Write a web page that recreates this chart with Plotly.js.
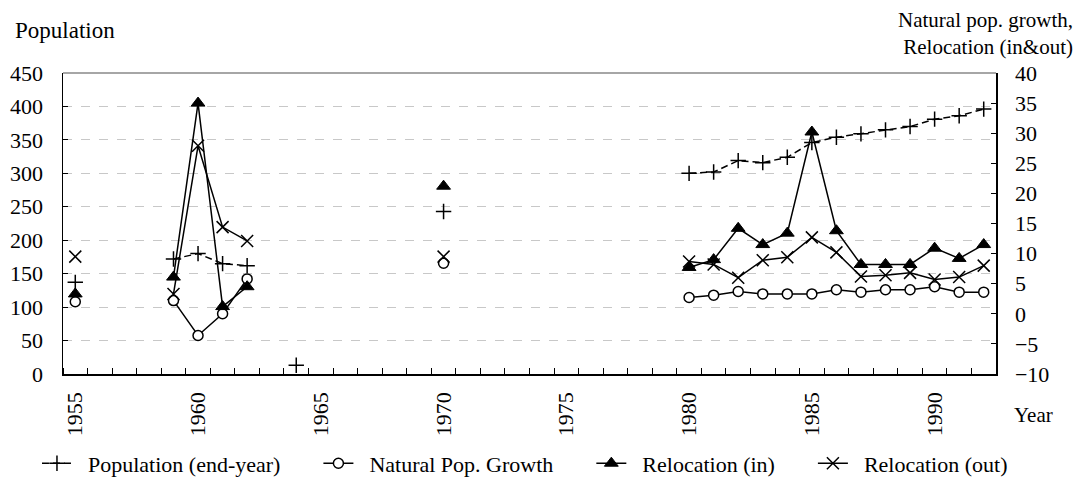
<!DOCTYPE html>
<html>
<head>
<meta charset="utf-8">
<script src="https://cdn.plot.ly/plotly-3.0.1.min.js"></script>
<style>html,body{margin:0;padding:0;background:#fff;}#chart{width:1084px;height:497px;}</style>
</head>
<body>
<div id="chart"></div>
<script>
// Years 1955..1992 (category slots); null = no data
const years = [1955,1956,1957,1958,1959,1960,1961,1962,1963,1964,1965,1966,1967,1968,1969,1970,1971,1972,1973,1974,1975,1976,1977,1978,1979,1980,1981,1982,1983,1984,1985,1986,1987,1988,1989,1990,1991,1992];
const tickYears = [1955,1960,1965,1970,1975,1980,1985,1990];

const population = [137,null,null,null,172,180,165,162,null,13,null,null,null,null,null,243,null,null,null,null,null,null,null,null,null,300,302,319,316,324,346,354,359,365,370,381,386,396];
const naturalGrowth = [2.0,null,null,null,2.2,-3.6,0.0,5.8,null,null,null,null,null,null,null,8.4,null,null,null,null,null,null,null,null,null,2.7,3.1,3.7,3.3,3.3,3.3,4.0,3.6,4.0,4.0,4.5,3.6,3.6];
const relocIn = [3.3,null,null,null,6.1,35.0,1.2,4.5,null,null,null,null,null,null,null,21.2,null,null,null,null,null,null,null,null,null,7.7,9.0,14.2,11.5,13.4,30.2,13.8,8.2,8.2,8.2,10.9,9.2,11.5];
const relocOut = [9.5,null,null,null,3.3,27.9,14.4,12.1,null,null,null,null,null,null,null,9.5,null,null,null,null,null,null,null,null,null,8.7,8.2,6.0,8.9,9.4,12.7,10.2,6.2,6.4,6.8,5.7,6.1,8.0];

const names = ['Population (end-year)','Natural Pop. Growth','Relocation (in)','Relocation (out)'];

const FONT = 'Liberation Serif';
const NB = '\u00a0';
const pad = (s, last) => NB.repeat(2) + s + (last ? '' : NB.repeat(6));
const boundaries = years.concat([years[years.length-1]+1]).map(y => y - 0.5);

const traces = [
  {x: years, y: population, name: pad(names[0]), yaxis: 'y', mode: 'lines+markers', connectgaps: false,
   line: {color: 'black', width: 1.5, dash: '7px,4px'},
   marker: {symbol: 'cross-thin-open', size: 11, color: 'black', line: {color: 'black', width: 1.5}}},
  {x: years, y: naturalGrowth, name: pad(names[1]), yaxis: 'y2', mode: 'lines+markers', connectgaps: false,
   line: {color: 'black', width: 1.5},
   marker: {symbol: 'circle', size: 10, color: 'white', line: {color: 'black', width: 1.5}}},
  {x: years, y: relocIn, name: pad(names[2]), yaxis: 'y2', mode: 'lines+markers', connectgaps: false,
   line: {color: 'black', width: 1.5},
   marker: {symbol: 'triangle-up', size: 12, color: 'black', line: {color: 'black', width: 1}}},
  {x: years, y: relocOut, name: pad(names[3], true), yaxis: 'y2', mode: 'lines+markers', connectgaps: false,
   line: {color: 'black', width: 1.5},
   marker: {symbol: 'x-thin-open', size: 12, color: 'black', line: {color: 'black', width: 1.5}}}
];

const layout = {
  width: 1084, height: 497,
  margin: {l: 63, r: 88, t: 73, b: 118},
  paper_bgcolor: 'white', plot_bgcolor: 'white',
  font: {family: FONT, size: 22, color: 'black'},
  showlegend: true,
  legend: {orientation: 'h', x: -0.0279, xanchor: 'left', y: -0.297, yanchor: 'middle',
           font: {family: FONT, size: 22, color: 'black'}, traceorder: 'normal'},
  xaxis: {
    range: [years[0]-0.5, years[years.length-1]+0.5],
    tickmode: 'array', tickvals: tickYears, ticktext: tickYears.map(String),
    ticks: '', tickangle: -90, showgrid: false, zeroline: false, ticklabelstandoff: 8,
    showline: true, linecolor: 'black', linewidth: 1.5,
    tickfont: {family: FONT, size: 22, color: 'black'},
    minor: {tickmode: 'array', tickvals: boundaries, ticks: 'inside', ticklen: 6, tickcolor: 'black', tickwidth: 1, showgrid: false}
  },
  yaxis: {
    range: [0, 450], dtick: 50, tick0: 0,
    ticks: 'inside', ticklen: 5, tickcolor: 'black', ticklabelstandoff: 14,
    showline: true, linecolor: 'black', linewidth: 1.5,
    showgrid: true, gridcolor: '#c8c8c8', griddash: 'dash', gridwidth: 1,
    zeroline: false, tickfont: {family: FONT, size: 22, color: 'black'}
  },
  yaxis2: {
    range: [-10, 40], dtick: 5, tick0: -10, overlaying: 'y', side: 'right',
    ticks: 'inside', ticklen: 5, tickcolor: 'black', ticklabelstandoff: 13,
    showline: true, linecolor: 'black', linewidth: 1.5,
    showgrid: false, zeroline: false, tickfont: {family: FONT, size: 22, color: 'black'}
  },
  shapes: [
    {type: 'line', xref: 'paper', yref: 'paper', x0: 0, x1: 1, y0: 1, y1: 1, line: {color: '#888', width: 1.5}}
  ],
  annotations: [
    {text: 'Population', xref: 'paper', yref: 'paper', x: -0.0536, y: 1.1405, xanchor: 'left', yanchor: 'middle', showarrow: false, font: {family: FONT, size: 23, color: 'black'}},
    {text: 'Natural pop. growth,<br>Relocation (in&amp;out)', xref: 'paper', yref: 'paper', x: 1.0846, y: 1.13, xanchor: 'right', yanchor: 'middle', align: 'right', showarrow: false, font: {family: FONT, size: 21, color: 'black'}},
    {text: 'Year', xref: 'paper', yref: 'paper', x: 1.0171, y: -0.137, xanchor: 'left', yanchor: 'middle', showarrow: false, font: {family: FONT, size: 21, color: 'black'}}
  ]
};

Plotly.newPlot('chart', traces, layout, {displayModeBar: false, staticPlot: true});
</script>
</body>
</html>
